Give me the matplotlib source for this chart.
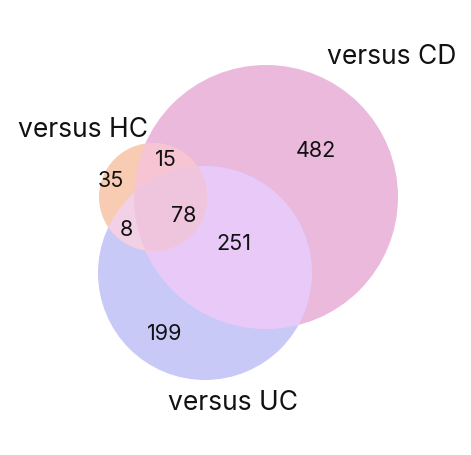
import numpy as np
import matplotlib.pyplot as plt
from matplotlib.patches import Circle, PathPatch
from matplotlib.path import Path

plt.rcParams['font.family'] = ['Inter', 'DejaVu Sans']

# set names and region counts
set_names = ["versus HC", "versus CD", "versus UC"]
counts = {
    "HC": 35, "CD": 482, "UC": 199,
    "HC_CD": 15, "HC_UC": 8, "CD_UC": 251, "HC_CD_UC": 78,
}

# circle geometry (pixel-ish units, y down flipped later)
centers = {"HC": (153, 198), "CD": (266, 198), "UC": (205, 274)}
radii = {"HC": 54, "CD": 132, "UC": 107}

region_colors = {
    "HC": "#f8cbb3", "CD": "#ebb9dc", "UC": "#c9c9f7",
    "HC_CD": "#f7c4d4", "HC_UC": "#f2d0e6", "CD_UC": "#e9c9f8",
    "HC_CD_UC": "#eec5dc",
}

label_pos = {
    "HC": (111, 181), "CD": (316, 151), "UC": (165, 334),
    "HC_CD": (166, 160), "HC_UC": (126, 230), "CD_UC": (234, 244),
    "HC_CD_UC": (184, 216),
}
name_pos = {"versus HC": (83, 130), "versus CD": (392, 57), "versus UC": (233, 403)}

fig = plt.figure(figsize=(4.71, 4.56), dpi=100)
ax = fig.add_axes([0, 0, 1, 1])
ax.set_xlim(0, 471)
ax.set_ylim(456, 0)
ax.set_aspect('equal')
ax.axis('off')


def circ(key, color, z):
    c = Circle(centers[key], radii[key], facecolor=color, edgecolor='none', zorder=z)
    ax.add_patch(c)
    return c


def lens_path(a, b, n=400):
    # intersection of circles a and b as a polygon path
    ca, ra = np.array(centers[a]), radii[a]
    cb, rb = np.array(centers[b]), radii[b]
    th = np.linspace(0, 2 * np.pi, n)
    pa = ca + ra * np.c_[np.cos(th), np.sin(th)]
    pb = cb + rb * np.c_[np.cos(th), np.sin(th)]
    pts = np.vstack([pa[np.linalg.norm(pa - cb, axis=1) <= rb],
                     pb[np.linalg.norm(pb - ca, axis=1) <= ra]])
    mid = pts.mean(axis=0)
    ang = np.arctan2(pts[:, 1] - mid[1], pts[:, 0] - mid[0])
    pts = pts[np.argsort(ang)]
    return Path(np.vstack([pts, pts[:1]]), closed=True)


circ("CD", region_colors["CD"], 1)
circ("UC", region_colors["UC"], 2)
cd_clip = Circle(centers["CD"], radii["CD"], transform=ax.transData)
circ("UC", region_colors["CD_UC"], 3).set_clip_path(cd_clip)
circ("HC", region_colors["HC"], 4)
circ("HC", region_colors["HC_CD"], 5).set_clip_path(
    Circle(centers["CD"], radii["CD"], transform=ax.transData))
circ("HC", region_colors["HC_UC"], 6).set_clip_path(
    Circle(centers["UC"], radii["UC"], transform=ax.transData))
tri = PathPatch(lens_path("CD", "UC"), facecolor=region_colors["HC_CD_UC"],
                edgecolor='none', zorder=7)
ax.add_patch(tri)
tri.set_clip_path(Circle(centers["HC"], radii["HC"], transform=ax.transData))

for key, (x, y) in label_pos.items():
    ax.text(x, y, str(counts[key]), ha='center', va='center', fontsize=15.5,
            color='#111111', zorder=10)

for name in set_names:
    x, y = name_pos[name]
    ax.text(x, y, name, ha='center', va='center', fontsize=19, color='#111111', zorder=10)

fig.savefig("out.png", dpi=100)
